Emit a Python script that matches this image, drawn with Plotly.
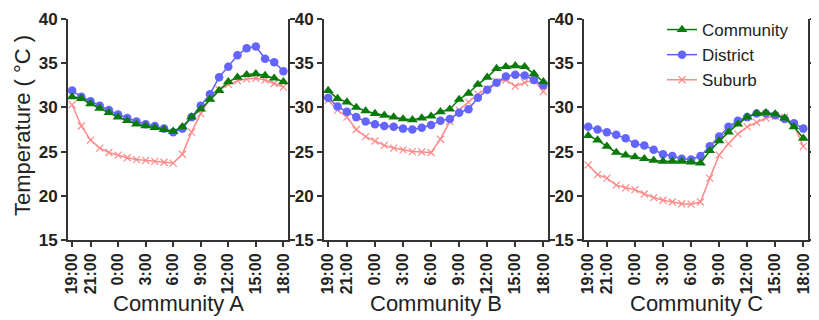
import plotly.graph_objects as go

hours = ["19:00", "20:00", "21:00", "22:00", "23:00", "0:00", "1:00", "2:00",
         "3:00", "4:00", "5:00", "6:00", "7:00", "8:00", "9:00", "10:00",
         "11:00", "12:00", "13:00", "14:00", "15:00", "16:00", "17:00", "18:00"]
tick_labels = ["19:00", "21:00", "0:00", "3:00", "6:00", "9:00", "12:00", "15:00", "18:00"]
y_ticks = [15, 20, 25, 30, 35, 40]

panels = ["Community A", "Community B", "Community C"]
series_names = ["Community", "District", "Suburb"]

A_community = [31.2, 31.0, 30.4, 29.9, 29.4, 28.9, 28.5, 28.1, 27.9, 27.7, 27.5, 27.3,
               27.8, 28.9, 29.8, 30.9, 31.9, 32.9, 33.4, 33.7, 33.8, 33.6, 33.3, 32.9]
A_district = [31.9, 31.2, 30.7, 30.2, 29.7, 29.2, 28.8, 28.4, 28.1, 27.9, 27.6, 27.2,
              27.6, 28.9, 30.2, 31.5, 33.4, 34.6, 35.9, 36.7, 36.9, 35.5, 35.1, 34.1]
A_suburb = [30.3, 27.9, 26.3, 25.4, 24.9, 24.6, 24.3, 24.1, 24.0, 23.9, 23.8, 23.7,
            24.7, 27.2, 29.3, 31.0, 32.0, 32.6, 33.0, 33.2, 33.3, 33.1, 32.7, 32.3]

B_community = [31.9, 31.0, 30.6, 30.0, 29.6, 29.3, 29.1, 28.9, 28.7, 28.6, 28.8, 29.0,
               29.5, 29.8, 30.9, 31.6, 32.6, 33.4, 34.4, 34.6, 34.7, 34.6, 33.8, 32.9]
B_district = [31.1, 30.1, 29.5, 28.9, 28.4, 28.1, 27.9, 27.8, 27.6, 27.5, 27.7, 28.0,
              28.5, 28.7, 29.4, 29.8, 31.1, 32.0, 32.8, 33.5, 33.7, 33.6, 33.1, 32.5]
B_suburb = [30.8, 29.7, 28.9, 27.5, 26.7, 26.2, 25.7, 25.4, 25.2, 25.0, 24.95, 24.9,
            26.4, 28.4, 29.7, 30.6, 31.5, 32.1, 32.9, 33.1, 32.4, 32.8, 33.1, 31.8]

C_community = [26.8, 26.3, 25.6, 24.9, 24.6, 24.4, 24.2, 24.0, 23.9, 23.9, 23.9, 23.8,
               23.7, 25.1, 26.2, 27.2, 28.1, 28.9, 29.3, 29.4, 29.25, 28.8, 27.8, 26.5]
C_district = [27.8, 27.5, 27.2, 26.9, 26.5, 25.9, 25.7, 25.2, 24.7, 24.5, 24.2, 24.1,
              24.5, 25.6, 26.7, 27.8, 28.5, 28.9, 29.3, 29.3, 29.1, 28.7, 28.2, 27.6]
C_suburb = [23.5, 22.4, 22.0, 21.2, 20.9, 20.7, 20.2, 19.8, 19.5, 19.3, 19.1, 19.05,
            19.3, 22.0, 24.6, 25.9, 27.0, 27.8, 28.3, 28.8, 29.0, 28.9, 28.0, 25.6]

data = [
    {"Community": A_community, "District": A_district, "Suburb": A_suburb},
    {"Community": B_community, "District": B_district, "Suburb": B_suburb},
    {"Community": C_community, "District": C_district, "Suburb": C_suburb},
]

styles = {
    "Community": dict(line_color="#0a7a0a", marker=dict(symbol="triangle-up", size=9.5, color="#0a7a0a"), rank=1),
    "District": dict(line_color="#5e5ef5", marker=dict(symbol="circle", size=8.5, color="#6464ff"), rank=2),
    "Suburb": dict(line_color="#ff8a8a", marker=dict(symbol="x-thin", size=7, color="#ff8a8a",
                                                    line=dict(color="#ff8a8a", width=1.2)), rank=3),
}

# the page body has an 8px margin; lay the figure out in window pixels minus that offset
OFF = 8
W, H = 819 - OFF, 320 - OFF
x_px = [(68 - OFF, 288 - OFF), (324 - OFF, 548 - OFF), (584 - OFF, 808 - OFF)]
y_dom = [(H - (240 - OFF)) / H, (H - (19 - OFF)) / H]

fig = go.Figure()
draw_order = ["Suburb", "District", "Community"]
for p in range(3):
    for name in draw_order:
        st = styles[name]
        fig.add_trace(go.Scatter(
            x=hours, y=data[p][name], name=name, mode="lines+markers",
            line=dict(color=st["line_color"], width=1.5),
            marker=st["marker"],
            xaxis="x" if p == 0 else f"x{p+1}",
            yaxis="y" if p == 0 else f"y{p+1}",
            legendgroup=name, showlegend=(p == 2), legendrank=st["rank"],
        ))

font_family = "Liberation Sans, Arial, sans-serif"
layout = dict(
    width=W, height=H,
    margin=dict(l=0, r=0, t=0, b=0),
    paper_bgcolor="white", plot_bgcolor="white",
    font=dict(family=font_family, color="#222"),
    legend=dict(x=(662 - OFF) / W, y=(H - (12 - OFF)) / H, xanchor="left", yanchor="top",
                font=dict(size=17, color="#222"), bgcolor="rgba(0,0,0,0)",
                tracegroupgap=0),
    annotations=[],
)
for p in range(3):
    xk = "xaxis" if p == 0 else f"xaxis{p+1}"
    yk = "yaxis" if p == 0 else f"yaxis{p+1}"
    xa = "x" if p == 0 else f"x{p+1}"
    ya = "y" if p == 0 else f"y{p+1}"
    layout[xk] = dict(
        domain=[x_px[p][0] / W, x_px[p][1] / W], anchor=ya,
        type="category", categoryorder="array", categoryarray=hours,
        range=[-0.45, 23.5], tickmode="array", tickvals=tick_labels, ticktext=tick_labels,
        tickangle=-90, tickfont=dict(size=16, weight="bold", color="#222"),
        showline=True, linecolor="#333", linewidth=2, ticks="outside", ticklen=5,
        tickwidth=2, tickcolor="#333", showgrid=False, zeroline=False, automargin=False,
    )
    layout[yk] = dict(
        domain=list(y_dom), anchor=xa, range=[15, 40], tickmode="array", tickvals=y_ticks,
        tickfont=dict(size=17, weight="bold", color="#222"),
        showline=True, linecolor="#333", linewidth=2, ticks="outside", ticklen=5,
        tickwidth=2, tickcolor="#333", mirror="ticks", showgrid=False, zeroline=False,
        automargin=False,
    )
    layout["annotations"].append(dict(
        text=panels[p], xref="paper", yref="paper",
        x=(x_px[p][0] + x_px[p][1]) / 2 / W, y=(H - (303 - OFF)) / H,
        xanchor="center", yanchor="middle", showarrow=False,
        font=dict(size=22, color="#222"),
    ))
layout["annotations"].append(dict(
    text="Temperature ( °C )", xref="paper", yref="paper",
    x=(22 - OFF) / W, y=(H - (126 - OFF)) / H, xanchor="center", yanchor="middle",
    textangle=-90, showarrow=False, font=dict(size=22, color="#222"),
))

fig.update_layout(**layout)
fig.write_html("out.html")
